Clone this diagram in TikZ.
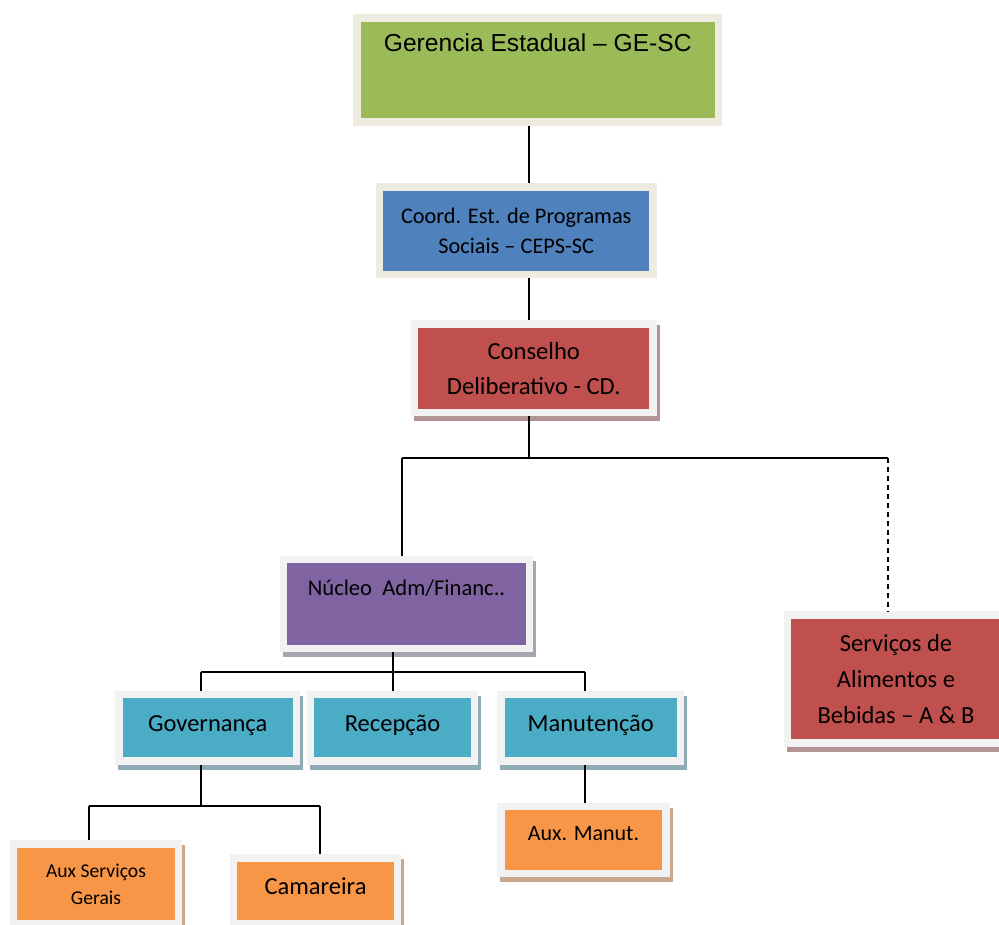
\documentclass[tikz,border=0pt]{standalone}
\usepackage{fontspec}
\setmainfont{Carlito}
\newfontfamily\arialfont{Liberation Sans}
\usetikzlibrary{shadows}

% theme colours
\definecolor{olive}{HTML}{9BBB59}
\definecolor{steel}{HTML}{4F81BD}
\definecolor{brick}{HTML}{C0504D}
\definecolor{plum}{HTML}{8064A2}
\definecolor{aqua}{HTML}{4BACC6}
\definecolor{tangerine}{HTML}{F79646}
\definecolor{frameBeige}{HTML}{EEECE1}
\definecolor{frameGray}{HTML}{F2F2F2}
\definecolor{shBrick}{HTML}{B39494}
\definecolor{shPlum}{HTML}{A6A6AE}
\definecolor{shAqua}{HTML}{8FABB5}
\definecolor{shTangerine}{HTML}{C9A88E}

\tikzset{
  orgbox/.style={rectangle, inner sep=0pt, line width=7.5pt, align=center,
    text=black, draw=frameGray},
  beige/.style={draw=frameBeige},
  boxshadow/.style={general shadow={fill=#1, draw=#1, line width=7.5pt,
    shadow xshift=3pt, shadow yshift=-5pt}},
  single/.style={text height=16pt, text depth=9pt,
    font=\fontsize{24.5}{30}\selectfont},
  link/.style={line width=1.8pt, black},
}

\begin{document}
\begin{tikzpicture}[x=1pt, y=-1pt]
\useasboundingbox (0,0) rectangle (999,925);

% ---- boxes ----
\node[orgbox, beige, fill=olive, minimum width=361.5pt, minimum height=104pt,
  text height=18pt, text depth=54pt,
  font=\arialfont\fontsize{24.6}{30}\selectfont]
  (ge) at (537.75,70) {Gerencia Estadual – GE-SC};

\node[orgbox, beige, fill=steel, minimum width=273.5pt, minimum height=87.5pt,
  font=\fontsize{22.3}{30}\selectfont]
  (ceps) at (516.25,230.75) {Coord. Est. de Programas\\Sociais – CEPS-SC};

\node[orgbox, boxshadow=shBrick, fill=brick, minimum width=238.5pt, minimum height=88.5pt,
  font=\fontsize{24.6}{35}\selectfont]
  (cd) at (533.75,368.25) {Conselho\\Deliberativo - CD.};

\node[orgbox, boxshadow=shPlum, fill=plum, minimum width=246pt, minimum height=89pt,
  text height=15pt, text depth=33pt, font=\fontsize{22.6}{30}\selectfont]
  (nucleo) at (406.5,604) {Núcleo\ \ Adm/Financ..};

\node[orgbox, boxshadow=shBrick, fill=brick, minimum width=217pt, minimum height=128pt,
  font=\fontsize{24.5}{36}\selectfont]
  (ab) at (896,679) {Serviços de\\Alimentos e\\Bebidas – A \& B};

\node[orgbox, boxshadow=shAqua, fill=aqua, single, minimum width=177.5pt, minimum height=66.5pt]
  (gov) at (207.75,727.75) {Governança};
\node[orgbox, boxshadow=shAqua, fill=aqua, single, minimum width=164pt, minimum height=66.5pt]
  (rec) at (392.5,727.75) {Recepção};
\node[orgbox, boxshadow=shAqua, fill=aqua, single, minimum width=179.5pt, minimum height=66.5pt]
  (man) at (590.75,727.75) {Manutenção};

\node[orgbox, boxshadow=shTangerine, fill=tangerine, minimum width=165pt, minimum height=80pt,
  font=\fontsize{19.6}{27}\selectfont]
  (asg) at (96,884) {Aux Serviços\\Gerais};
\node[orgbox, boxshadow=shTangerine, fill=tangerine, single, minimum width=164pt, minimum height=65.5pt]
  (cam) at (315.5,890.75) {Camareira};
\node[orgbox, boxshadow=shTangerine, fill=tangerine, minimum width=165pt, minimum height=67pt,
  text height=12pt, text depth=12pt, font=\fontsize{22}{28}\selectfont]
  (aman) at (583.5,840) {Aux. Manut.};

% ---- junction points ----
\coordinate (spine) at (529,0);
\coordinate (j1) at (529,458);
\coordinate (j1l) at (402,458);
\coordinate (j1r) at (888,458);
\coordinate (j2) at (393,672);
\coordinate (j2l) at (201,672);
\coordinate (j2r) at (585,672);
\coordinate (j3) at (201,806);
\coordinate (j3l) at (89,806);
\coordinate (j3r) at (320,806);

% ---- connectors ----
\draw[link] (ge.south -| spine) -- (ceps.north -| spine);
\draw[link] (ceps.south -| spine) -- (cd.north -| spine);
\draw[link] (cd.south -| j1) -- (j1);
\draw[link] (j1l) -- (j1r);
\draw[link] (j1l) -- (nucleo.north -| j1l);
\draw[link, dash pattern=on 5pt off 4pt] (j1r) -- (ab.north -| j1r);

\draw[link] (nucleo.south -| j2) -- (j2);
\draw[link] (j2l) -- (j2r);
\draw[link] (j2l) -- (gov.north -| j2l);
\draw[link] (j2) -- (rec.north -| j2);
\draw[link] (j2r) -- (man.north -| j2r);

\draw[link] (gov.south -| j3) -- (j3);
\draw[link] (j3l) -- (j3r);
\draw[link] (j3l) -- (asg.north -| j3l);
\draw[link] (j3r) -- (cam.north -| j3r);

\draw[link] (man.south -| j2r) -- (aman.north -| j2r);
\end{tikzpicture}
\end{document}
